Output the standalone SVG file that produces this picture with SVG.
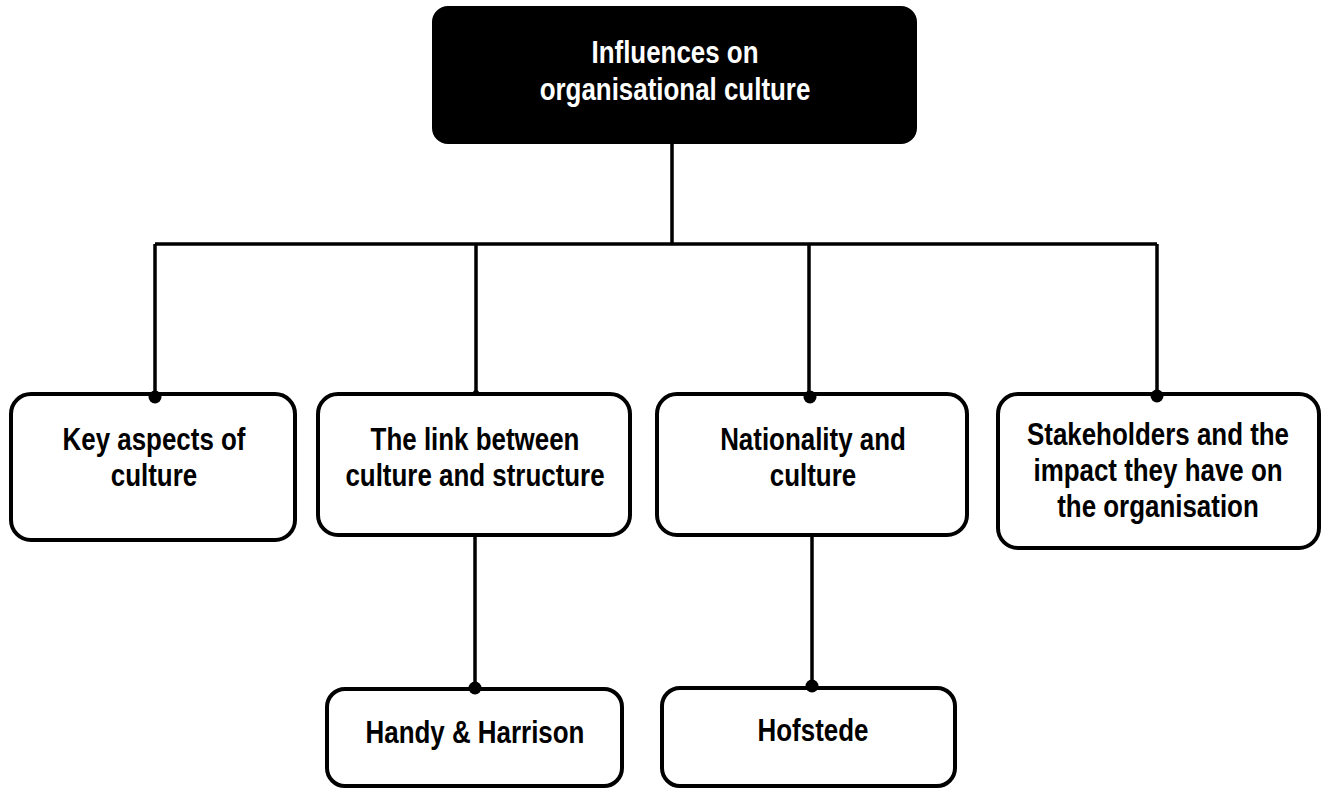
<svg xmlns="http://www.w3.org/2000/svg" width="1326" height="789" viewBox="0 0 1326 789">
  <style>
    .box { fill: #ffffff; stroke: #000000; stroke-width: 4; }
    .root { fill: #000000; stroke: #000000; stroke-width: 2; }
    .wire { fill: none; stroke: #000000; stroke-width: 3.5; stroke-linecap: butt; }
    .dot { fill: #000000; }
    text { font-family: "Liberation Sans", Arial, sans-serif; font-weight: bold; font-size: 32px; text-anchor: middle; fill: #000000; }
    .light { fill: #ffffff; }
  </style>

  <g id="node-root">
    <rect class="root" x="433" y="7" width="483" height="136" rx="15"/>
    <text class="light" transform="translate(675,63) scale(0.81,1)">Influences on</text>
    <text class="light" transform="translate(675,100) scale(0.81,1)">organisational culture</text>
  </g>

  <g id="node-key-aspects">
    <rect class="box" x="11" y="394" width="284" height="146" rx="20"/>
    <text transform="translate(154,450) scale(0.81,1)">Key aspects of</text>
    <text transform="translate(154,486) scale(0.81,1)">culture</text>
  </g>

  <g id="node-culture-structure">
    <rect class="box" x="318" y="394" width="312" height="141" rx="20"/>
    <text transform="translate(475,450) scale(0.81,1)">The link between</text>
    <text transform="translate(475,486) scale(0.81,1)">culture and structure</text>
  </g>

  <g id="node-nationality">
    <rect class="box" x="657" y="394" width="310" height="141" rx="20"/>
    <text transform="translate(813,450) scale(0.81,1)">Nationality and</text>
    <text transform="translate(813,486) scale(0.81,1)">culture</text>
  </g>

  <g id="node-stakeholders">
    <rect class="box" x="998" y="394" width="321" height="154" rx="20"/>
    <text transform="translate(1158,445) scale(0.81,1)">Stakeholders and the</text>
    <text transform="translate(1158,481) scale(0.81,1)">impact they have on</text>
    <text transform="translate(1158,517) scale(0.81,1)">the organisation</text>
  </g>

  <g id="node-handy-harrison">
    <rect class="box" x="327" y="689" width="295" height="97" rx="18"/>
    <text transform="translate(475,743) scale(0.81,1)">Handy &amp; Harrison</text>
  </g>

  <g id="node-hofstede">
    <rect class="box" x="662" y="688" width="293" height="98" rx="18"/>
    <text transform="translate(813,741) scale(0.81,1)">Hofstede</text>
  </g>

  <!-- connectors, drawn last so the end dots sit on the box borders -->
  <g id="connectors">
    <path class="wire" d="M672,143 V244"/>
    <path class="wire" d="M155,244 H1157"/>
    <path class="wire" d="M155,244 V396"/>
    <path class="wire" d="M476,244 V394"/>
    <path class="wire" d="M809,244 V396"/>
    <path class="wire" d="M1157,244 V396"/>
    <path class="wire" d="M475,535 V688"/>
    <path class="wire" d="M812,535 V686"/>
    <circle class="dot" cx="155" cy="397" r="6.5"/>
    <circle class="dot" cx="476" cy="393" r="3"/>
    <circle class="dot" cx="810" cy="397" r="6.5"/>
    <circle class="dot" cx="1157" cy="396" r="6.5"/>
    <circle class="dot" cx="475" cy="688" r="6.5"/>
    <circle class="dot" cx="812" cy="686" r="6.5"/>
  </g>
</svg>
